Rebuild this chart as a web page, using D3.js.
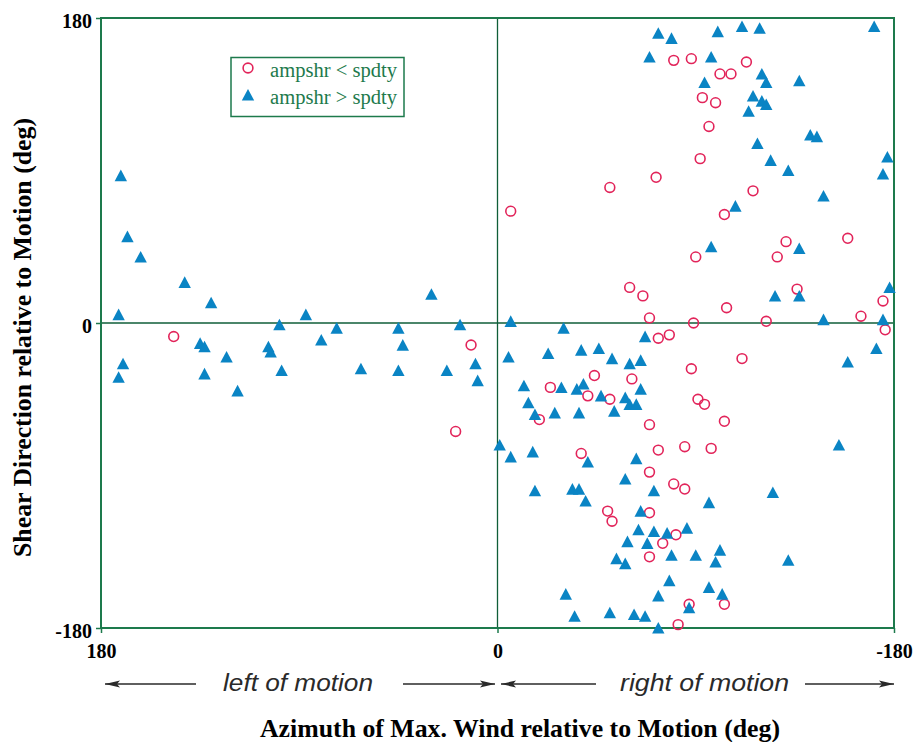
<!DOCTYPE html>
<html>
<head>
<meta charset="utf-8">
<script src="https://cdn.jsdelivr.net/npm/d3@7"></script>
<style>
  html, body { margin: 0; padding: 0; background: #fff; }
  svg { display: block; }
</style>
</head>
<body>
<script>
// ---------- DATA ----------
// [azimuth of max wind relative to motion (deg), shear direction relative to motion (deg)]
const ampshrLessSpdty = [
  [147,-8],[19,-64],[12,-13],
  [-80,155],[-88,156],[-113,154],[-101,147],[-106,147],[-93,133],[-99,130],[-96,116],
  [-92,97],[-72,86],[-51,80],[-6,66],[-116,78],[-103,64],[-131,48],[-159,50],[-90,39],
  [-127,39],[-60,21],[-66,16],[-136,20],[-175,13],[-104,9],[-165,4],[-69,3],[-89,0],
  [-122,1],[-176,-4],[-73,-9],[-78,-7],[-111,-21],[-88,-27],[-44,-31],[-61,-33],[-24,-38],
  [-41,-43],[-51,-45],[-91,-45],[-94,-48],[-19,-57],[-103,-58],[-69,-60],[-38,-77],
  [-73,-75],[-85,-73],[-97,-74],[-69,-88],[-80,-95],[-85,-98],[-50,-111],[-52,-117],
  [-69,-112],[-81,-125],[-75,-130],[-69,-138],[-87,-166],[-103,-166],[-82,-178]
];
const ampshrGreaterSpdty = [
  [171,87],[168,51],[162,39],[142,24],[130,12],[172,5],[99,-1],[87,5],[73,-3],[45,-3],
  [30,17],[17,-1],[170,-24],[172,-32],[135,-12],[133,-14],[133,-30],[123,-20],[118,-40],
  [104,-14],[103,-17],[98,-28],[80,-10],[62,-27],[43,-13],[45,-28],[23,-28],[10,-24],[9,-34],
  [-73,171],[-79,168],[-100,172],[-111,175],[-119,174],[-171,175],[-69,157],[-97,157],
  [-120,147],[-122,142],[-137,143],[-94,142],[-116,134],[-120,131],[-122,129],[-114,125],
  [-142,111],[-145,110],[-118,106],[-124,96],[-132,90],[-177,98],[-175,88],[-148,75],
  [-108,69],[-97,45],[-137,44],[-178,21],[-126,16],[-137,16],[-148,2],[-175,2],[-6,1],
  [-30,-3],[-67,-8],[-5,-20],[-23,-18],[-38,-16],[-46,-15],[-52,-21],[-60,-24],[-65,-22],
  [-172,-15],[-159,-23],[-12,-37],[-29,-38],[-36,-39],[-39,-36],[-47,-43],[-58,-44],
  [-65,-39],[-60,-48],[-63,-48],[-14,-47],[-17,-54],[-26,-53],[-37,-53],[-53,-52],
  [-1,-72],[-6,-79],[-16,-76],[-41,-82],[-63,-80],[-58,-92],[-155,-72],[-17,-99],
  [-34,-98],[-37,-98],[-40,-105],[-71,-99],[-96,-106],[-125,-100],[-65,-111],[-64,-122],
  [-71,-123],[-77,-124],[-86,-121],[-59,-129],[-68,-130],[-54,-139],[-58,-142],[-79,-137],
  [-90,-137],[-101,-134],[-99,-141],[-132,-140],[-78,-152],[-31,-160],[-73,-161],
  [-96,-156],[-102,-160],[-87,-168],[-35,-173],[-51,-171],[-62,-172],[-67,-173],[-73,-180]
];
const xTicks = [180, 0, -180];
const yTicks = [-180, 0, 180];
const seriesNames = ["ampshr < spdty", "ampshr > spdty"];
const xTitle = "Azimuth of Max. Wind relative to Motion (deg)";
const yTitle = "Shear Direction relative to Motion (deg)";
const sideLabels = ["left of motion", "right of motion"];

// ---------- LAYOUT ----------
const W = 916, H = 742;
const plot = { left: 101, right: 894, top: 18, bottom: 628 };
const green = "#1d7a4c";
const darkGreen = "#0f5e38";
const blue = "#0a84c4";
const red = "#e2245a";
const serif = "'Liberation Serif','Times New Roman',serif";
const sans = "'Liberation Sans',Arial,sans-serif";

const svg = d3.select("body").append("svg").attr("width", W).attr("height", H);

const x = d3.scaleLinear().domain([180, -180]).range([plot.left, plot.right]);
const y = d3.scaleLinear().domain([-180, 180]).range([plot.bottom, plot.top]);

// zero lines
svg.append("line").attr("x1", x(0)).attr("x2", x(0)).attr("y1", plot.top).attr("y2", plot.bottom)
  .attr("stroke", darkGreen).attr("stroke-width", 1.3);
svg.append("line").attr("x1", plot.left).attr("x2", plot.right).attr("y1", y(0)).attr("y2", y(0))
  .attr("stroke", darkGreen).attr("stroke-width", 1.3);

// frame
svg.append("rect").attr("x", plot.left).attr("y", plot.top)
  .attr("width", plot.right - plot.left).attr("height", plot.bottom - plot.top)
  .attr("fill", "none").attr("stroke", green).attr("stroke-width", 2);

// axes
const yAxis = d3.axisLeft(y).tickValues(yTicks).tickSize(5).tickSizeOuter(0).tickPadding(4)
  .tickFormat(d => String(d));
const gy = svg.append("g").attr("transform", `translate(${plot.left},0)`).call(yAxis);
const xAxis = d3.axisBottom(x).tickValues(xTicks).tickSize(5).tickSizeOuter(0).tickPadding(11)
  .tickFormat(d => String(d));
const gx = svg.append("g").attr("transform", `translate(0,${plot.bottom})`).call(xAxis);
[gx, gy].forEach(g => {
  g.select(".domain").remove();
  g.selectAll(".tick line").attr("stroke", green).attr("stroke-width", 1.5);
  g.selectAll(".tick text").attr("fill", "#000").attr("font-family", serif)
    .attr("font-weight", "bold").attr("font-size", 20);
});
gy.selectAll(".tick text").attr("dy", "0.45em");

// points
svg.append("g").selectAll("circle").data(ampshrLessSpdty).join("circle")
  .attr("cx", d => x(d[0])).attr("cy", d => y(d[1])).attr("r", 4.9)
  .attr("fill", "none").attr("stroke", red).attr("stroke-width", 1.6);

// triangle marker (slightly taller than equilateral), centred on its bounding box
const triPath = "M0,-6L6.2,5.6L-6.2,5.6Z";
svg.append("g").selectAll("path").data(ampshrGreaterSpdty).join("path")
  .attr("d", triPath).attr("transform", d => `translate(${x(d[0])},${y(d[1])})`)
  .attr("fill", blue);

// legend
const lg = svg.append("g");
lg.append("rect").attr("x", 231).attr("y", 57.5).attr("width", 173).attr("height", 59)
  .attr("fill", "#fff").attr("stroke", green).attr("stroke-width", 1.5);
lg.append("circle").attr("cx", 248).attr("cy", 68).attr("r", 4.9)
  .attr("fill", "none").attr("stroke", red).attr("stroke-width", 1.6);
lg.append("path").attr("d", triPath).attr("transform", "translate(248,95)").attr("fill", blue);
lg.selectAll("text").data(seriesNames).join("text")
  .attr("x", 270).attr("y", (d, i) => 77 + i * 27)
  .attr("font-family", serif).attr("font-size", 20).attr("fill", green)
  .attr("textLength", 127).attr("lengthAdjust", "spacingAndGlyphs")
  .text(d => d);

// side labels with arrows
const arrowY = 684;
const ink = "#2a2a2a";
svg.append("defs").append("marker").attr("id", "ah").attr("viewBox", "0 0 15 8")
  .attr("refX", 15).attr("refY", 4).attr("markerWidth", 15).attr("markerHeight", 8)
  .attr("markerUnits", "userSpaceOnUse").attr("orient", "auto")
  .append("path").attr("d", "M0,0.5 L15,4 L0,7.5 L3,4 Z").attr("fill", ink);
const arrows = [
  [196, 105], [403, 495], [596, 501], [805, 894]
];
svg.append("g").selectAll("line").data(arrows).join("line")
  .attr("x1", d => d[0]).attr("x2", d => d[1]).attr("y1", arrowY).attr("y2", arrowY)
  .attr("stroke", ink).attr("stroke-width", 1.4).attr("marker-end", "url(#ah)");
const sidePos = [[223, 150], [620, 169]];
svg.append("g").selectAll("text").data(sideLabels).join("text")
  .attr("x", (d, i) => sidePos[i][0]).attr("y", 691)
  .attr("font-family", sans).attr("font-style", "italic").attr("font-size", 24)
  .attr("fill", ink)
  .attr("textLength", (d, i) => sidePos[i][1]).attr("lengthAdjust", "spacingAndGlyphs")
  .text(d => d);

// titles
svg.append("text").attr("x", 260).attr("y", 737)
  .attr("font-family", serif).attr("font-weight", "bold").attr("font-size", 25)
  .attr("textLength", 520).attr("lengthAdjust", "spacingAndGlyphs")
  .text(xTitle);
svg.append("text").attr("transform", "translate(31,557) rotate(-90)")
  .attr("font-family", serif).attr("font-weight", "bold").attr("font-size", 25)
  .attr("textLength", 439).attr("lengthAdjust", "spacingAndGlyphs")
  .text(yTitle);
</script>
</body>
</html>
